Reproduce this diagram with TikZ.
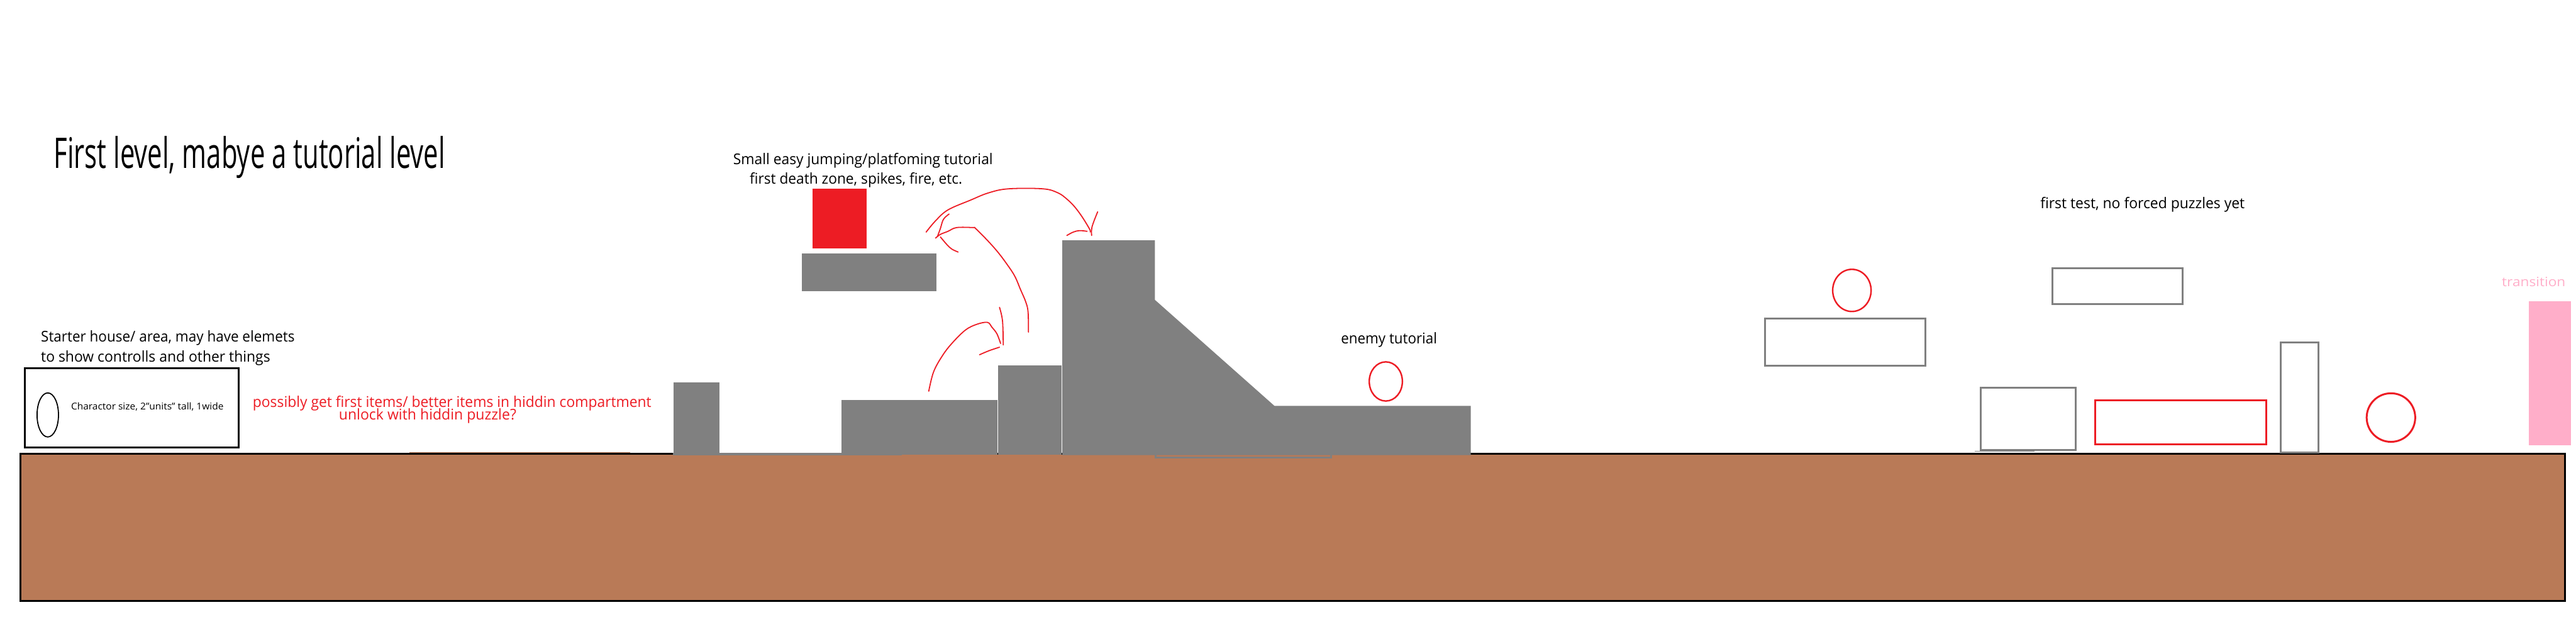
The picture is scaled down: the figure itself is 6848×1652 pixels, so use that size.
\documentclass[tikz,border=0pt]{standalone}
\usepackage{fontspec}
\setmainfont{Open Sans}
\usepackage{graphicx}
\definecolor{grayc}{HTML}{808080}
\definecolor{redc}{HTML}{ED1C24}
\definecolor{brownc}{HTML}{B97A57}
\definecolor{pinkc}{HTML}{FFAEC9}
\newcommand{\fitw}[2]{\resizebox{#1}{\height}{#2}}
\tikzset{
  lbl/.style={anchor=base west, inner sep=0pt, outer sep=0pt},
  smalltxt/.style={lbl, font=\fontsize{11.2}{13}\selectfont},
  groundbox/.style={fill=brownc, draw=black, line width=1.42pt},
  block/.style={fill=grayc, draw=none},
  graybox/.style={draw=grayc, line width=1.42pt},
  redbox/.style={draw=redc, line width=1.42pt},
  jump/.style={draw=redc, line width=0.85pt, line cap=round, line join=round},
}
\begin{document}
\begin{tikzpicture}[x=0.01cm, y=-0.01cm]
\useasboundingbox (0,0) rectangle (6848,1652);
\fill[white] (0,0) rectangle (6848,1652);

% ground
\draw[groundbox] (54.5,1205.5) rectangle (6818.5,1597.5);
\fill[brownc] (1089,1201.5) rectangle (1676,1203);

% title and labels
\node[lbl, font=\fontsize{31.9}{36}\selectfont] (title) at (143,447) {\fitw{10.40cm}{First level, mabye a tutorial level}};
\node[smalltxt] (start1) at (109,908) {\fitw{6.74cm}{Starter house/ area, may have elemets}};
\node[smalltxt] (start2) at (109,962) {\fitw{6.09cm}{to show controlls and other things}};
\node[lbl, font=\fontsize{7.1}{9}\selectfont] (charlbl) at (189,1090) {\fitw{4.05cm}{Charactor size, 2"units" tall, 1wide}};
\node[smalltxt, text=redc] (hid1) at (672,1082) {\fitw{10.59cm}{possibly get first items/ better items in hiddin compartment}};
\node[smalltxt, text=redc] (hid2) at (901,1116) {\fitw{4.71cm}{unlock with hiddin puzzle?}};
\node[smalltxt] (jump1) at (1949,437) {\fitw{6.90cm}{Small easy jumping/platfoming tutorial}};
\node[smalltxt] (jump2) at (1993,489) {\fitw{5.65cm}{first death zone, spikes, fire, etc.}};
\node[smalltxt] (enemylbl) at (3565,914) {\fitw{2.55cm}{enemy tutorial}};
\node[smalltxt] (testlbl) at (5424,555) {\fitw{5.43cm}{first test, no forced puzzles yet}};
\node[lbl, font=\fontsize{9.7}{12}\selectfont, text=pinkc] (translbl) at (6651,762) {\fitw{1.69cm}{transition}};

% starter house
\draw[black, line width=1.42pt] (65.5,979.5) rectangle (634.5,1189.5);
\draw[black, line width=0.85pt] (127,1103) ellipse [x radius=0.285cm, y radius=0.585cm];

% gray terrain
\fill[block] (1789,1203) rectangle (2397,1210);
\fill[block] (1790,1016) rectangle (1912,1208);
\fill[block] (2237,1063) rectangle (2652,1208);
\fill[block] (2654,971) rectangle (2822,1208);
\fill[block] (2824,639) -- (3070,639) -- (3070,797) -- (3388,1079) -- (3910,1079)
   -- (3910,1210) -- (2824,1210) -- cycle;
\draw[grayc, line width=1.42pt] (3071.5,1208) -- (3071.5,1215.5) -- (3538.5,1215.5) -- (3538.5,1208);

% floating platform and hazard
\fill[block] (2131,673) rectangle (2490,774);
\fill[redc] (2160,501) rectangle (2303,660);

% jump arrows
\draw[jump] plot[smooth, tension=0.6] coordinates {(2462,617) (2487,587) (2520,558) (2580,532) (2627,513) (2680,502) (2773,502) (2813,513) (2837,530) (2857,550) (2877,577) (2897,610) (2898,617)};
\draw[jump] plot[smooth, tension=0.6] coordinates {(2918,563) (2903,603) (2902,626)};
\draw[jump] plot[smooth, tension=0.6] coordinates {(2836,626) (2853,617) (2870,613) (2890,615)};

\draw[jump] plot[smooth, tension=0.6] coordinates {(2734,883) (2733,830) (2727,803) (2713,770) (2697,733) (2673,697) (2650,667) (2623,637) (2593,607) (2587,605) (2543,605) (2520,615) (2500,623) (2487,633)};
\draw[jump] plot[smooth, tension=0.6] coordinates {(2523,569) (2508,583) (2500,607) (2492,629)};
\draw[jump] plot[smooth, tension=0.6] coordinates {(2500,630) (2517,650) (2530,662) (2547,670)};

\draw[jump] plot[smooth, tension=0.6] coordinates {(2469,1040) (2482,988) (2507,943) (2533,910) (2567,877) (2597,862) (2625,857) (2637,870) (2650,887) (2660,913)};
\draw[jump] plot[smooth, tension=0.6] coordinates {(2657,817) (2665,853) (2667,917)};
\draw[jump] plot[smooth, tension=0.6] coordinates {(2604,943) (2630,932) (2657,923)};

% enemy
\draw[redc, line width=1.14pt] (3684,1014) ellipse [x radius=0.44cm, y radius=0.52cm];

% first test area
\draw[redc, line width=1.14pt] (4923,772) ellipse [x radius=0.51cm, y radius=0.56cm];
\draw[graybox] (4692.5,847.5) rectangle (5118.5,972.5);
\draw[graybox] (5456.5,712.5) rectangle (5802.5,808.5);
\draw[graybox] (5265.5,1030.5) rectangle (5518.5,1195.5);
\fill[grayc] (5249,1198.5) rectangle (5408,1200.5);
\draw[redbox] (5569.5,1064.5) rectangle (6024.5,1181.5);
\draw[graybox] (6063.5,910.5) rectangle (6163.5,1203.5);
\draw[redc, line width=1.42pt] (6356,1110) ellipse [x radius=0.645cm, y radius=0.645cm];
\fill[pinkc] (6723,800) rectangle (6835,1184);
\end{tikzpicture}
\end{document}
